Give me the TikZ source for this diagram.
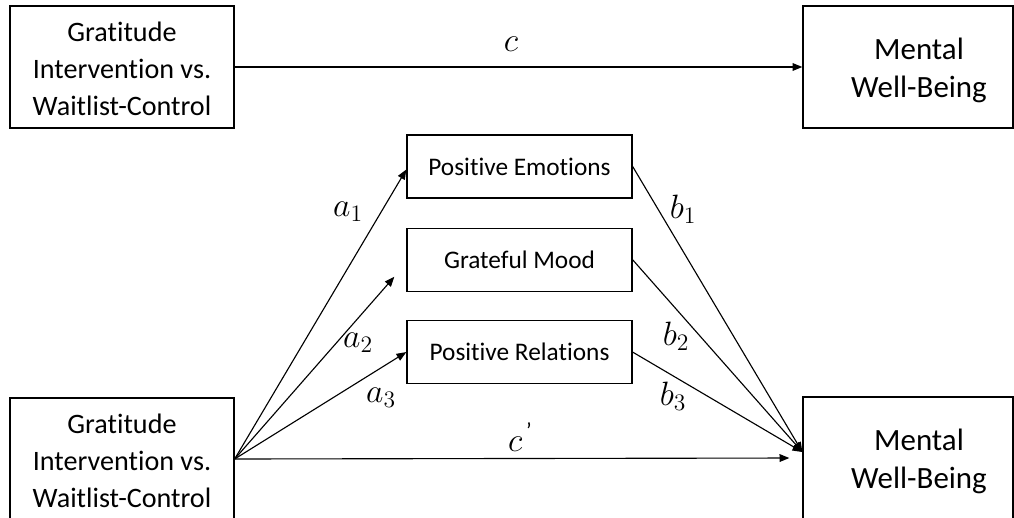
\documentclass[tikz,border=0pt]{standalone}
\usepackage{fix-cm}
\usepackage{fontspec}
\setmainfont[Ligatures=NoCommon]{Carlito}
\usetikzlibrary{positioning,arrows.meta,calc}
% box text, set a little below the middle of its box
\newcommand{\boxlines}[1]{\raisebox{-0.1cm}[\height][\depth]{\begin{tabular}{@{}c@{}}#1\end{tabular}}}
\tikzset{
  varbox/.style={draw, line width=0.9pt, align=center, inner sep=2pt,
                 font=\fontsize{20}{26.3}\selectfont},
  ivbox/.style={varbox, minimum width=5.6cm, minimum height=3.05cm},
  dvbox/.style={varbox, minimum width=5.25cm, minimum height=3.05cm,
                font=\fontsize{22}{26.5}\selectfont},
  medbox/.style={varbox, minimum width=5.625cm, minimum height=1.575cm,
                 font=\fontsize{18}{21}\selectfont},
  link/.style={-{Triangle[length=7pt,width=5.5pt]}, line width=0.8pt},
  coef/.style={font=\fontsize{24}{28}\selectfont, inner sep=0pt}
}

\begin{document}
\begin{tikzpicture}[x=0.025cm, y=-0.025cm]
\path[clip] (0,0) rectangle (1014,518);
% total effect
\node[ivbox] (ivtop) at (122,67) {\boxlines{Gratitude\\Intervention vs.\\Waitlist-Control}};
\node[dvbox] (dvtop) at (908,67) {\hspace*{0.55cm}\boxlines{Mental\\Well-Being}};
\draw[link] (ivtop) -- (dvtop);
\node[coef] (c) at (511,44) {$c$};
% mediation model
\node[ivbox] (iv) at (122,459) {\boxlines{Gratitude\\Intervention vs.\\Waitlist-Control}};
\node[dvbox] (dv) at (908,458) {\hspace*{0.55cm}\boxlines{Mental\\Well-Being}};
\node[medbox] (emo) at (519.5,166.5) {Positive Emotions};
\node[medbox, below=0.725cm of emo] (mood) {Grateful Mood};
\node[medbox, below=0.7cm of mood] (rel) {Positive Relations};
\coordinate (moodin) at ($(mood.west)+(-12,17)$);
\coordinate (dvin) at ($(dv.west)+(0,-6)$);
\draw[link] (iv.east) -- ($(emo.west)+(0,3)$);
\draw[link] (iv.east) -- (moodin);
\draw[link] (iv.east) -- (rel.west);
\draw[link] (emo.east) -- (dvin);
\draw[link] (mood.east) -- (dvin);
\draw[link] (rel.east) -- (dvin);
\draw[link, shorten >=13*0.025cm] (iv.east) -- (dv.west);
\node[coef] (a1) at (348,212) {$a_1$};
\node[coef] (a2) at (358,343) {$a_2$};
\node[coef] (a3) at (381,398) {$a_3$};
\node[coef] (b1) at (683,209) {$b_1$};
\node[coef] (b2) at (676,336) {$b_2$};
\node[coef] (b3) at (673,396) {$b_3$};
\node[coef] (cp) at (520,437) {$c$\raisebox{0.4em}{\fontsize{16}{18}\selectfont\,’}};
\end{tikzpicture}
\end{document}
